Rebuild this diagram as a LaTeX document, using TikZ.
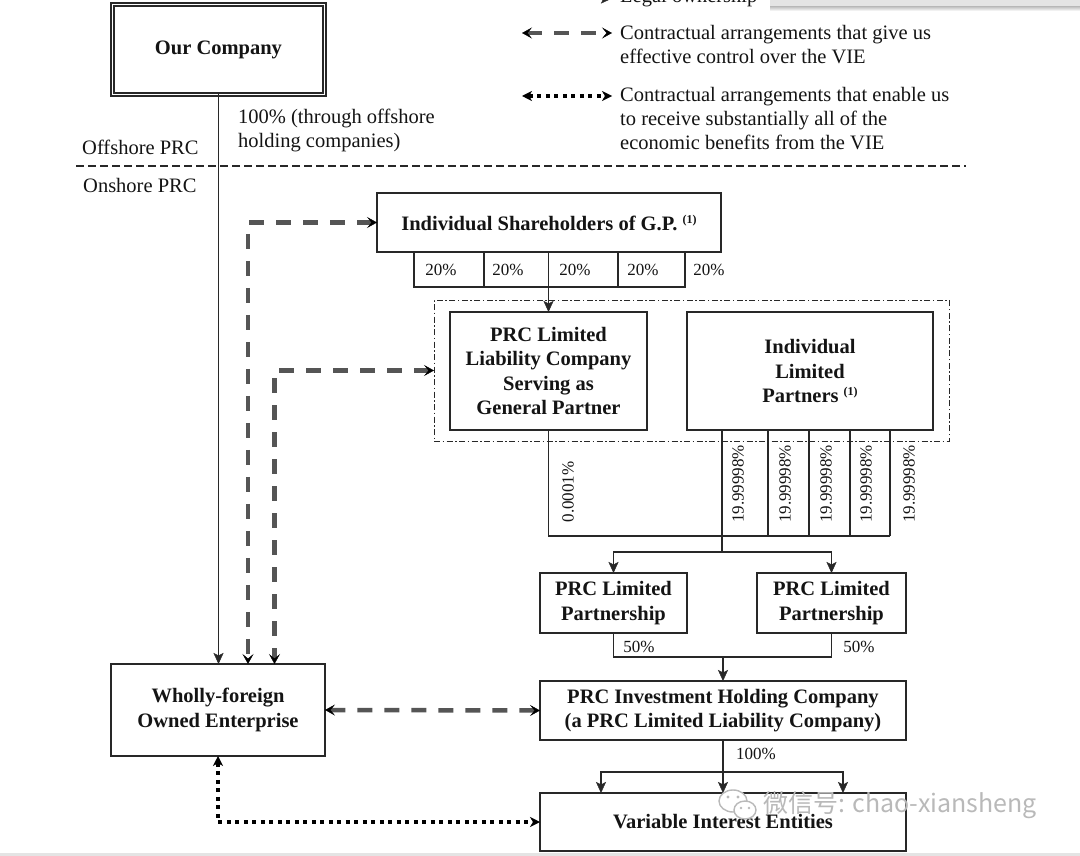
\documentclass[tikz,border=0pt]{standalone}
\usepackage{fontspec}
\setmainfont{Liberation Serif}
\newfontfamily\wmfont{Noto Sans CJK SC}
\usetikzlibrary{arrows.meta}
\definecolor{linec}{RGB}{40,40,40}
\definecolor{textc}{RGB}{20,20,20}
\definecolor{dashc}{RGB}{85,85,85}
\definecolor{wmc}{RGB}{185,185,185}
\definecolor{bandc}{RGB}{228,228,228}
\newcommand\fbig{\fontsize{20.5}{24.3}\selectfont}
\newcommand\fsmall{\fontsize{17}{20}\selectfont}
\newcommand\fnote{\raisebox{7pt}{\fontsize{12}{12}\selectfont(1)}}
\begin{document}
\begin{tikzpicture}[x=1pt,y=-1pt,
  box/.style={draw=linec, line width=2.4pt, fill=white, text=textc, font=\fbig\bfseries, align=center, inner sep=0pt, outer sep=0pt},
  lab/.style={text=textc, font=\fbig, inner sep=0pt, anchor=base west},
  pct/.style={text=textc, font=\fsmall, inner sep=0pt, anchor=base},
  rpct/.style={text=textc, font=\fsmall, inner sep=0pt, rotate=90},
  thinl/.style={draw=linec, line width=1.8pt},
  own/.style={thinl, -{Stealth[length=11pt,width=10pt,inset=2.5pt,line width=0.4pt]}},
  ctrl/.style={draw=dashc, line width=4.5pt, dash pattern=on 15pt off 12pt,
    {Stealth[length=10pt,width=11pt,inset=4.5pt,line width=0.5pt,color=black]}-{Stealth[length=10pt,width=11pt,inset=4.5pt,line width=0.5pt,color=black]}},
  benef/.style={draw=black, line width=4pt, dash pattern=on 4pt off 4.5pt,
    {Stealth[length=10pt,width=10pt,inset=3pt,line width=0.5pt,color=black]}-{Stealth[length=10pt,width=10pt,inset=3pt,line width=0.5pt,color=black]}},
  grp/.style={draw=linec, line width=1pt, dash pattern=on 6pt off 2.5pt on 1.5pt off 2.5pt, inner sep=0pt, outer sep=0pt}
]
\useasboundingbox[fill=white] (0,0) rectangle (1080,856);

% screenshot bands
\fill[bandc] (770,0) rectangle (1080,7);
\shade[top color=gray!45, bottom color=white] (770,7) rectangle (1080,11);
\fill[bandc] (0,853) rectangle (1080,856);

% legend
\coordinate (lg1s) at (522,-1.5); \coordinate (lg1e) at (612,-1.5);
\draw[own] (lg1s) -- (lg1e);
\node[lab] (lg1t) at (620,2.5) {Legal ownership};
\coordinate (lg2s) at (522,33); \coordinate (lg2e) at (612,33);
\draw[ctrl] (lg2s) -- (lg2e);
\node[lab] (lg2t) at (620,39.5) {Contractual arrangements that give us};
\node[lab] (lg2u) at (620,63.5) {effective control over the VIE};
\coordinate (lg3s) at (522,96); \coordinate (lg3e) at (612,96);
\draw[benef] (lg3s) -- (lg3e);
\node[lab] (lg3t) at (620,102) {Contractual arrangements that enable us};
\node[lab] (lg3u) at (620,126) {to receive substantially all of the};
\node[lab] (lg3v) at (620,150) {economic benefits from the VIE};

% offshore / onshore
\coordinate (sepl) at (76,166); \coordinate (sepr) at (966,166);
\draw[draw=linec, line width=1.8pt, dash pattern=on 7.5pt off 4.5pt] (sepl) -- (sepr);
\node[lab] (offs) at (82,155) {Offshore PRC};
\node[lab] (ons) at (83,193) {Onshore PRC};
\node[lab] (p100a) at (238,124) {100\% (through offshore};
\node[lab] (p100b) at (238,148) {holding companies)};

% boxes
\node[box, line width=1.7pt, double=white, double distance=1.6pt, minimum width=212pt, minimum height=90pt] (oc) at (218.5,49.5) {Our Company};
\node[box, minimum width=214pt, minimum height=92pt] (wfoe) at (218,710) {Wholly-foreign\\Owned Enterprise};
\node[box, minimum width=344pt, minimum height=59pt] (ish) at (549,222.5) {Individual Shareholders of G.P. \fnote};
\node[grp, minimum width=515pt, minimum height=141pt] (grpbox) at (691.5,370.5) {};
\node[box, minimum width=197pt, minimum height=118pt] (gp) at (548.5,371) {PRC Limited\\Liability Company\\Serving as\\General Partner};
\node[box, minimum width=246pt, minimum height=118pt] (ilp) at (810,371) {Individual\\Limited\\Partners \fnote};
\node[box, minimum width=147pt, minimum height=60pt] (lp1) at (613.5,603) {PRC Limited\\Partnership};
\node[box, minimum width=149pt, minimum height=60pt] (lp2) at (831.5,603) {PRC Limited\\Partnership};
\node[box, minimum width=366pt, minimum height=59pt] (pihc) at (723,710.5) {PRC Investment Holding Company\\(a PRC Limited Liability Company)};
\node[box, minimum width=366pt, minimum height=58pt] (vie) at (723,822) {Variable Interest Entities};

% ownership: our company -> WFOE
\draw[own] (oc.south) -- (oc.south |- wfoe.north);

% shareholders -> GP with 20% cells
\draw[thinl] (414,252) -- (414,287) -- (685,287) -- (685,252);
\draw[thinl] (484,252) -- (484,287);
\draw[thinl] (618,252) -- (618,287);
\draw[own] (gp.north |- ish.south) -- (gp.north);
\node[pct] (s1) at (441,275) {20\%};
\node[pct] (s2) at (508,275) {20\%};
\node[pct] (s3) at (575,275) {20\%};
\node[pct] (s4) at (643,275) {20\%};
\node[pct] (s5) at (709,275) {20\%};

% GP / LPs -> PRC limited partnerships
\coordinate (j1) at (722,552);
\draw[thinl] (gp.south) -- (548.5,536) -- (890,536);
\draw[thinl] (722,430) -- (j1);
\draw[thinl] (768,430) -- (768,536);
\draw[thinl] (809,430) -- (809,536);
\draw[thinl] (850,430) -- (850,536);
\draw[thinl] (890,430) -- (890,536);
\node[rpct] (r0) at (568,492) {0.0001\%};
\node[rpct] (r1) at (738,484) {19.99998\%};
\node[rpct] (r2) at (785,484) {19.99998\%};
\node[rpct] (r3) at (826,484) {19.99998\%};
\node[rpct] (r4) at (866,484) {19.99998\%};
\node[rpct] (r5) at (909,484) {19.99998\%};
\draw[own] (j1) -| (lp1.north);
\draw[own] (j1) -| (lp2.north);

% LPs -> PIHC
\coordinate (j2) at (723,657);
\draw[thinl] (lp1.south) |- (j2);
\draw[thinl] (lp2.south) |- (j2);
\draw[own] (j2) -- (pihc.north);
\node[pct] (h1) at (639,652) {50\%};
\node[pct] (h2) at (859,652) {50\%};

% PIHC -> VIE
\coordinate (j3) at (723,772);
\coordinate (v1) at (601,793);
\coordinate (v2) at (843,793);
\draw[own] (pihc.south) -- (vie.north);
\draw[own] (j3) -| (v1);
\draw[own] (j3) -| (v2);
\node[pct] (h3) at (756,759) {100\%};

% contractual arrangements
\coordinate (wt1) at (248,664);
\coordinate (wt2) at (274.5,664);
\draw[ctrl] (ish.west) -| (wt1);
\draw[ctrl] (grpbox.west) -| (wt2);
\draw[ctrl] (wfoe.east) -- (pihc.west);
\draw[benef] (wfoe.south) |- (vie.west);

% watermark
\draw[wmc, line width=1.4pt, fill=white] (733,801) ellipse [x radius=14pt, y radius=11pt];
\draw[wmc, line width=1.4pt, fill=white] (745,810) ellipse [x radius=11pt, y radius=9pt];
\fill[wmc] (728,797) circle (1.6pt) (738,797) circle (1.6pt) (741,808) circle (1.3pt) (749,808) circle (1.3pt);
\node[text=wmc, font=\wmfont\fontsize{25}{28}\selectfont, inner sep=0pt, anchor=west] (wm) at (763,805) {微信号: chao-xiansheng};
\end{tikzpicture}
\end{document}
